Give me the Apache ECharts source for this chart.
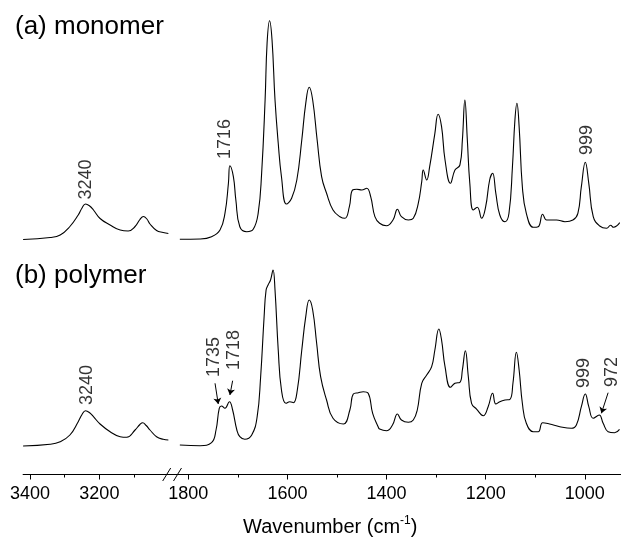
<!DOCTYPE html>
<html><head><meta charset="utf-8">
<script src="https://cdn.jsdelivr.net/npm/echarts@6/dist/echarts.min.js"></script>
<style>html,body{margin:0;padding:0;background:#fff}#c{width:621px;height:538px}</style>
</head><body><div id="c"></div>
<script>
// Wavenumber (cm-1), relative absorbance (each spectrum relative to its own baseline)
const monomerLeft = [[3420,0.000],[3342,0.020],[3313,0.045],[3285,0.130],[3261,0.245],[3250,0.315],[3240,0.355],[3228,0.335],[3217,0.295],[3198,0.210],[3169,0.145],[3140,0.095],[3117,0.085],[3097,0.130],[3083,0.200],[3073,0.230],[3063,0.205],[3054,0.155],[3035,0.090],[3016,0.070],[3001,0.060]];
const polymerLeft = [[3420,0.000],[3342,0.017],[3313,0.043],[3285,0.110],[3261,0.243],[3250,0.315],[3240,0.353],[3228,0.333],[3217,0.293],[3198,0.220],[3169,0.143],[3140,0.093],[3121,0.087],[3097,0.160],[3083,0.215],[3075,0.233],[3065,0.205],[3054,0.160],[3035,0.093],[3016,0.067],[3001,0.060]];
const monomerRight = [[1817,0.002],[1776,0.005],[1753,0.028],[1736,0.095],[1726,0.262],[1719,0.562],[1716,0.738],[1709,0.628],[1704,0.395],[1696,0.128],[1682,0.078],[1669,0.102],[1659,0.262],[1652,0.662],[1645,1.395],[1641,1.962],[1636,2.188],[1631,1.995],[1625,1.395],[1618.5,0.962],[1612,0.628],[1602,0.355],[1591.5,0.412],[1581,0.595],[1571,0.995],[1563,1.362],[1556,1.522],[1549,1.395],[1540,0.995],[1531,0.628],[1521,0.462],[1508,0.295],[1494,0.228],[1484,0.212],[1475,0.328],[1468.5,0.495],[1460,0.502],[1450,0.495],[1440,0.512],[1432,0.428],[1423.5,0.228],[1414,0.162],[1400,0.138],[1387,0.195],[1378,0.302],[1370,0.228],[1356,0.195],[1346,0.212],[1336,0.362],[1329,0.578],[1326,0.695],[1319,0.595],[1313,0.728],[1302.5,1.062],[1296,1.252],[1289,1.128],[1282,0.795],[1271,0.562],[1262,0.695],[1252,0.745],[1247,0.995],[1242,1.395],[1237,0.995],[1232,0.562],[1225,0.295],[1217,0.322],[1208,0.212],[1200,0.328],[1192,0.595],[1186,0.662],[1179.5,0.462],[1171.5,0.245],[1161,0.178],[1153,0.262],[1146,0.728],[1141,1.195],[1137,1.362],[1132.5,1.128],[1126,0.528],[1118,0.262],[1104,0.122],[1094,0.128],[1085,0.252],[1077,0.195],[1057,0.195],[1040,0.178],[1024,0.195],[1014,0.262],[1007,0.528],[999,0.772],[992,0.562],[983,0.228],[970,0.135],[956,0.112],[948,0.142],[942,0.122],[929.5,0.168]];
const polymerRight = [[1817,0.010],[1776,0.003],[1753,0.033],[1744,0.160],[1737.5,0.377],[1733,0.400],[1726,0.377],[1717,0.443],[1710.5,0.360],[1702,0.160],[1696,0.093],[1686,0.067],[1672,0.110],[1661,0.293],[1654,0.693],[1647,1.293],[1643,1.560],[1639,1.610],[1634,1.660],[1629,1.760],[1625,1.560],[1618.5,0.960],[1612,0.560],[1603,0.427],[1595,0.443],[1588,0.433],[1580,0.560],[1571,0.960],[1563,1.293],[1556,1.460],[1549,1.360],[1541,1.027],[1533,0.693],[1521,0.460],[1508,0.277],[1487,0.220],[1474,0.360],[1467,0.520],[1457,0.533],[1447,0.543],[1437,0.527],[1428,0.327],[1417,0.193],[1414,0.170],[1400,0.153],[1388,0.210],[1378,0.320],[1370,0.260],[1356,0.237],[1346,0.260],[1338,0.360],[1329,0.627],[1319,0.710],[1309,0.793],[1302.5,0.960],[1294.5,1.170],[1289,1.060],[1282,0.793],[1271,0.587],[1262,0.627],[1252,0.637],[1247,0.760],[1241,0.953],[1235,0.693],[1228.5,0.427],[1218,0.367],[1205,0.303],[1195,0.393],[1186,0.527],[1179.5,0.420],[1171.5,0.443],[1161,0.460],[1151,0.467],[1145,0.627],[1138,0.937],[1132.5,0.760],[1126,0.427],[1118,0.227],[1104,0.143],[1094,0.143],[1085,0.233],[1071,0.220],[1050.5,0.193],[1027,0.177],[1017,0.210],[1007,0.393],[999,0.520],[992,0.393],[983,0.277],[971,0.310],[963,0.227],[953,0.143],[940,0.133],[930,0.167]];

// Peak labels: [text, wavenumber, height above spectrum baseline]
const monomerLabels = [['3240',3238,0.600],['1716',1726,1.005],['999',995,0.995]];
const polymerLabels = [['3240',3235,0.610],['1735',1748,0.890],['1718',1707,0.960],['999',1002,0.730],['972',945,0.740]];
// Arrows (polymer): [wn start, y start, wn end, y end]
const polymerArrows = [[1746,0.627,1739.5,0.420],[1710.5,0.653,1716,0.510],[953,0.533,966.5,0.327]];

const leftMajor = [3200,3400], leftMinor = [3100,3300];
const rightMajor = [1000,1200,1400,1600,1800], rightMinor = [1100,1300,1500,1700];
const leftRange = [2985,3420], rightRange = [927,1830];
const MONOMER_OFFSET = 2.065;

const FONT = "'Liberation Sans', Arial, sans-serif";
const chart = echarts.init(document.getElementById('c'));
const shift = (arr, d) => arr.map(p => [p[0], p[1] + d]);
const lineStyle = {color:'#000', width:1.1};
function spec(data, xi, yi){
  return {type:'line', xAxisIndex:xi, yAxisIndex:yi, data, symbol:'none', smooth:0.45, lineStyle, silent:true};
}
function labelSeries(items, xi, yi){
  return {type:'scatter', xAxisIndex:xi, yAxisIndex:yi, symbolSize:1, itemStyle:{color:'rgba(0,0,0,0)'}, silent:true,
    data: items.map(t => ({value:[t[1], t[2]], name:t[0]})),
    label:{show:true, position:'inside', rotate:90, formatter:p => p.name, fontSize:18, color:'#000', fontFamily:FONT}};
}
const monoL = monomerLabels.map(t => [t[0], t[1], t[2] + MONOMER_OFFSET]);
const polyL = polymerLabels;
const isLeft = t => t[1] > 2500;

function axisPair(gi, range, major, minor){
  const base = {type:'value', gridIndex:gi, inverse:true, min:range[0], max:range[1], splitLine:{show:false}, position:'bottom'};
  return [
    Object.assign({}, base, {
      axisLine:{show:true, onZero:false, lineStyle:{color:'#000', width:1}},
      axisTick:{show:true, customValues:major, length:5, lineStyle:{color:'#000'}},
      axisLabel:{show:true, customValues:major, fontSize:18, color:'#000', margin:11, fontFamily:FONT, formatter:v => String(v)}
    }),
    Object.assign({}, base, {
      axisLine:{show:false, onZero:false},
      axisTick:{show:true, customValues:minor, length:3, lineStyle:{color:'#000'}},
      axisLabel:{show:false}
    })
  ];
}

const option = {
  animation:false,
  backgroundColor:'#fff',
  title:[
    {text:'(a) monomer', left:10, top:9, textStyle:{fontSize:26, fontWeight:'normal', color:'#000', fontFamily:FONT}},
    {text:'(b) polymer', left:10, top:258, textStyle:{fontSize:26, fontWeight:'normal', color:'#000', fontFamily:FONT}},
    {text:'{a|Wavenumber (cm}{s|-1}{a|)}', left:238, top:510,
     textStyle:{fontWeight:'normal', rich:{a:{fontSize:20, fontWeight:'normal', color:'#000', fontFamily:FONT, lineHeight:24}, s:{fontSize:12, fontWeight:'normal', color:'#000', fontFamily:FONT, lineHeight:24, verticalAlign:'top', padding:[0,0,10,0]}}}}
  ],
  grid:[
    {left:23.1, width:150.8, top:0, bottom:63.5},
    {left:173.4, right:0, top:0, bottom:63.5}
  ],
  xAxis:[].concat(axisPair(0, leftRange, leftMajor, leftMinor), axisPair(1, rightRange, rightMajor, rightMinor)),
  yAxis:[
    {type:'value', gridIndex:0, min:-0.285, max:4.46, show:false},
    {type:'value', gridIndex:1, min:-0.285, max:4.46, show:false}
  ],
  series:[
    spec(shift(monomerLeft, MONOMER_OFFSET), 0, 0),
    spec(polymerLeft, 0, 0),
    spec(shift(monomerRight, MONOMER_OFFSET), 2, 1),
    spec(polymerRight, 2, 1),
    labelSeries(monoL.filter(isLeft).concat(polyL.filter(isLeft)), 0, 0),
    labelSeries(monoL.filter(t => !isLeft(t)).concat(polyL.filter(t => !isLeft(t))), 2, 1),
    {type:'lines', coordinateSystem:'cartesian2d', xAxisIndex:2, yAxisIndex:1, silent:true,
     symbol:['none','arrow'], symbolSize:[0,6],
     lineStyle:{color:'#000', width:1, opacity:1, curveness:0},
     data: polymerArrows.map(a => ({coords:[[a[0],a[1]],[a[2],a[3]]]}))}
  ],
  graphic:[
    {type:'line', shape:{x1:162.7, y1:481, x2:170.7, y2:468}, style:{stroke:'#000', lineWidth:1}, silent:true},
    {type:'line', shape:{x1:173.5, y1:481, x2:181.5, y2:468}, style:{stroke:'#000', lineWidth:1}, silent:true}
  ]
};
chart.setOption(option);
</script>
</body></html>
